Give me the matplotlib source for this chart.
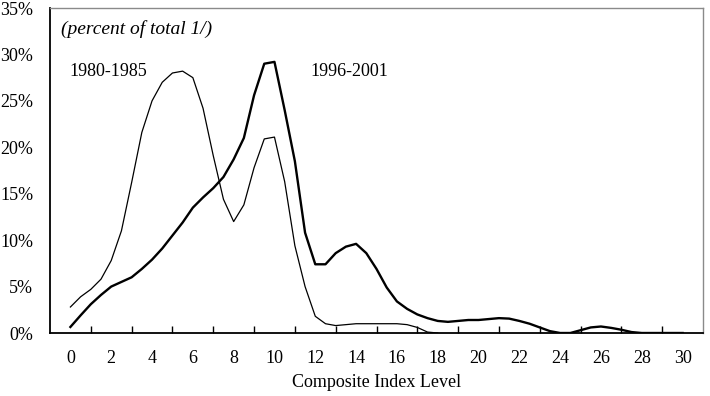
import matplotlib
matplotlib.use("Agg")
import matplotlib.pyplot as plt
from matplotlib.ticker import FixedLocator, NullFormatter, FixedFormatter

plt.rcParams['font.family'] = ['Liberation Serif', 'DejaVu Serif']

# Composite index level (half-unit steps)
x_1980 = [0, 0.5, 1, 1.5, 2, 2.5, 3, 3.5, 4, 4.5, 5, 5.5, 6, 6.5, 7, 7.5, 8, 8.5, 9, 9.5,
          10, 10.5, 11, 11.5, 12, 12.5, 13, 13.5, 14, 14.5, 15, 15.5, 16, 16.5, 17, 17.5, 18]
y_1980 = [2.8, 3.9, 4.7, 5.8, 7.8, 11.0, 16.2, 21.6, 25.0, 27.0, 28.0, 28.2, 27.5, 24.2, 19.1, 14.4, 12.0, 13.8, 17.8, 20.9,
          21.1, 16.3, 9.4, 5.0, 1.8, 1.0, 0.8, 0.9, 1.0, 1.0, 1.0, 1.0, 1.0, 0.9, 0.6, 0.1, 0.0]

x_1996 = [0, 0.5, 1, 1.5, 2, 2.5, 3, 3.5, 4, 4.5, 5, 5.5, 6, 6.5, 7, 7.5, 8, 8.5, 9, 9.5,
          10, 10.5, 11, 11.5, 12, 12.5, 13, 13.5, 14, 14.5, 15, 15.5, 16, 16.5, 17, 17.5, 18, 18.5, 19, 19.5,
          20, 20.5, 21, 21.5, 22, 22.5, 23, 23.5, 24, 24.5, 25, 25.5, 26, 26.5, 27, 27.5, 28, 29, 30]
y_1996 = [0.65, 1.9, 3.1, 4.1, 5.0, 5.5, 6.0, 6.9, 7.9, 9.1, 10.5, 11.9, 13.5, 14.6, 15.6, 16.8, 18.7, 21.0, 25.6, 29.0,
          29.2, 24.0, 18.5, 10.8, 7.4, 7.4, 8.6, 9.3, 9.6, 8.6, 6.9, 4.9, 3.4, 2.6, 2.0, 1.6, 1.3, 1.2, 1.3, 1.4,
          1.4, 1.5, 1.6, 1.55, 1.3, 1.0, 0.6, 0.2, 0.0, 0.0, 0.3, 0.6, 0.7, 0.55, 0.35, 0.1, 0.0, 0.0, 0.0]

tick_marks = list(range(1, 31, 2))
label_pos = list(range(0, 31, 2))
label_txt = [str(v) for v in label_pos]
y_ticks = [0, 5, 10, 15, 20, 25, 30, 35]
y_labels = [f"{v}%" for v in y_ticks]

fig = plt.figure(figsize=(7.10, 3.96), dpi=100)
ax = fig.add_axes([50/710, 63/396, 653/710, 325/396])

ax.plot(x_1980, y_1980, color='black', lw=0.9, solid_joinstyle='round')
ax.plot(x_1996, y_1996, color='black', lw=1.7, solid_joinstyle='round')

ax.set_xlim(-1, 31)
ax.set_ylim(0, 35)

ax.xaxis.set_major_locator(FixedLocator(tick_marks))
ax.xaxis.set_major_formatter(NullFormatter())
ax.xaxis.set_minor_locator(FixedLocator(label_pos))
ax.xaxis.set_minor_formatter(FixedFormatter(label_txt))
ax.tick_params(axis='x', which='major', direction='in', length=5, width=1, color='black')
ax.tick_params(axis='x', which='minor', length=0, pad=12, labelsize=13)

ax.set_yticks(y_ticks)
ax.set_yticklabels(y_labels)
ax.tick_params(axis='y', length=0, pad=12, labelsize=13)

for s in ['left', 'bottom']:
    ax.spines[s].set_color('black')
    ax.spines[s].set_linewidth(1.3)
for s in ['top', 'right']:
    ax.spines[s].set_color('#8a8a8a')
    ax.spines[s].set_linewidth(1.0)

ax.set_xlabel("Composite Index Level", fontsize=13, labelpad=5)

ax.text(-0.45, 32.7, "(percent of total 1/)", fontsize=14, style='italic', ha='left', va='center')
ax.text(-0.05, 28.2, "1980-1985", fontsize=13, ha='left', va='center')
ax.text(11.75, 28.2, "1996-2001", fontsize=13, ha='left', va='center')

fig.savefig("out.png", dpi=100)
